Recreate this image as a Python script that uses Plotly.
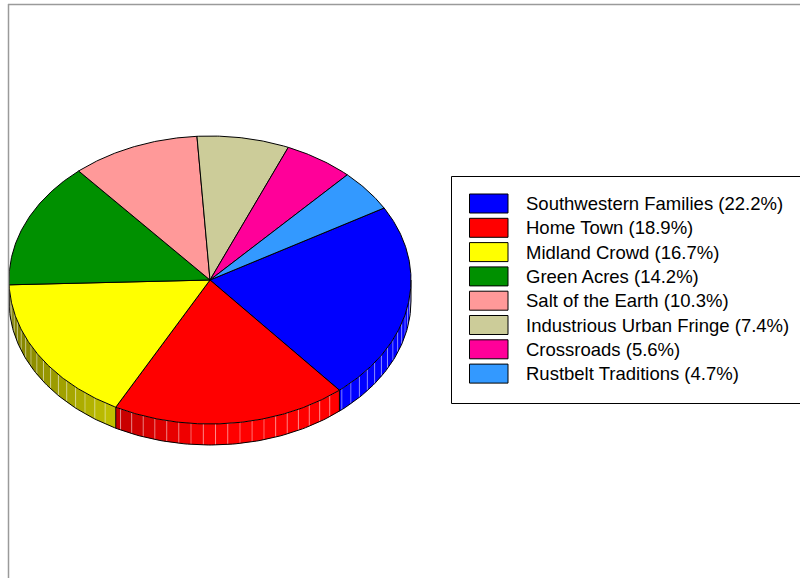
import math
import plotly.graph_objects as go

# ---- data ----
categories = ["Southwestern Families", "Home Town", "Midland Crowd", "Green Acres",
              "Salt of the Earth", "Industrious Urban Fringe", "Crossroads", "Rustbelt Traditions"]
values = [22.2, 18.9, 16.7, 14.2, 10.3, 7.4, 5.6, 4.7]
colors = ["#0000FF", "#FF0000", "#FFFF00", "#009000",
          "#FF9999", "#CCCC99", "#FF0099", "#3399FF"]

# ---- layout parameters (pixels) ----
W, H = 800, 578
CX, CY = 210, 280
RX, RY = 201, 144
DEPTH = 21
START = 30.0  # degrees, clockwise slices


def pt(deg, dy=0.0):
    t = math.radians(deg)
    return CX + RX * math.cos(t), CY - RY * math.sin(t) + dy


def arc(a0, a1, dy=0.0, step=1.0):
    n = max(2, int(abs(a1 - a0) / step) + 1)
    xs, ys = [], []
    for k in range(n + 1):
        a = a0 + (a1 - a0) * k / n
        x, y = pt(a, dy)
        xs.append(x)
        ys.append(y)
    return xs, ys


def hex_rgb(c):
    c = c.lstrip("#")
    return tuple(int(c[i:i + 2], 16) for i in (0, 2, 4))


def shade(c, f):
    r, g, b = hex_rgb(c)
    return "rgb(%d,%d,%d)" % (min(255, r * f), min(255, g * f), min(255, b * f))


fig = go.Figure()

# compute slice angles
angles = []
a = START
for v in values:
    a_end = a - 360.0 * v / 100.0
    angles.append((a, a_end))
    a = a_end

# ---- side walls (front half only: -180..0) ----
STRIP = 3.5
light_x, light_y = [], []
for (a0, a1), col in zip(angles, colors):
    hi = min(a0, 0.0)
    lo = max(a1, -180.0)
    if hi <= lo:
        continue
    s = hi
    while s > lo + 1e-9:
        e = max(lo, s - STRIP)
        mid = math.radians((s + e) / 2)
        f = 0.5 + 0.5 * min(1.0, math.cos(mid) + 1.0)
        tx, ty = arc(s, e, 0, 0.5)
        bx, by = arc(e, s, DEPTH, 0.5)
        fig.add_trace(go.Scatter(x=tx + bx + [tx[0]], y=ty + by + [ty[0]], mode="lines",
                                 fill="toself", fillcolor=shade(col, f),
                                 line=dict(width=0), hoverinfo="skip", showlegend=False))
        if e > lo + 1e-9:
            x0, y0 = pt(e)
            light_x += [x0, x0, None]
            light_y += [y0, y0 + DEPTH, None]
        s = e

fig.add_trace(go.Scatter(x=light_x, y=light_y, mode="lines",
                         line=dict(color="rgba(255,255,255,0.4)", width=1),
                         hoverinfo="skip", showlegend=False))

# side outline: bottom arc + boundary verticals
bx, by = arc(0, -180, DEPTH, 1.0)
fig.add_trace(go.Scatter(x=bx, y=by, mode="lines", line=dict(color="black", width=1),
                         hoverinfo="skip", showlegend=False))
vx, vy = [], []
edges = [0.0, -180.0] + [a1 for (_, a1) in angles if -180 < a1 < 0]
for e in edges:
    x0, y0 = pt(e)
    vx += [x0, x0, None]
    vy += [y0, y0 + DEPTH, None]
fig.add_trace(go.Scatter(x=vx, y=vy, mode="lines", line=dict(color="black", width=1),
                         hoverinfo="skip", showlegend=False))

# ---- top surface wedges ----
for (a0, a1), col, name, v in zip(angles, colors, categories, values):
    xs, ys = arc(a0, a1, 0, 0.5)
    fig.add_trace(go.Scatter(x=[CX] + xs + [CX], y=[CY] + ys + [CY], mode="lines",
                             fill="toself", fillcolor=col,
                             line=dict(color="black", width=1),
                             name=name, hovertemplate="%s: %.1f%%<extra></extra>" % (name, v),
                             showlegend=False))

# ---- manual legend ----
shapes = []
annotations = []
LX0, LY0, LX1, LY1 = 451.5, 176.5, 806, 403.5
shapes.append(dict(type="rect", xref="x", yref="y", x0=LX0, y0=LY0, x1=LX1, y1=LY1,
                   line=dict(color="black", width=1), fillcolor="rgba(0,0,0,0)", layer="above"))
ROW = 24.3
for i, (name, v, col) in enumerate(zip(categories, values, colors)):
    yc = 203.5 + ROW * i
    shapes.append(dict(type="rect", xref="x", yref="y", x0=469.5, x1=508, y0=yc - 9.5, y1=yc + 9.5,
                       line=dict(color="black", width=1), fillcolor=col, layer="above"))
    annotations.append(dict(x=524, y=yc, xref="x", yref="y", xanchor="left", yanchor="middle",
                            text="%s (%.1f%%)" % (name, v), showarrow=False,
                            font=dict(family="Liberation Sans, Arial, sans-serif", size=18.5,
                                      color="black")))

# frame lines
shapes.append(dict(type="line", xref="x", yref="y", x0=8.5, x1=8.5, y0=4, y1=H + 2,
                   line=dict(color="#9a9a9a", width=1.5)))
shapes.append(dict(type="line", xref="x", yref="y", x0=8, x1=W + 2, y0=4.5, y1=4.5,
                   line=dict(color="#9a9a9a", width=1.5)))

fig.update_layout(
    width=W, height=H,
    margin=dict(l=0, r=0, t=0, b=0),
    paper_bgcolor="white", plot_bgcolor="white",
    xaxis=dict(range=[0, W], visible=False, fixedrange=True),
    yaxis=dict(range=[H, 0], visible=False, fixedrange=True),
    showlegend=False,
    shapes=shapes,
    annotations=annotations,
)

fig.write_html("out.html", config={"displayModeBar": False},
               post_script="document.body.style.margin='0px';document.body.style.overflow='hidden';")
